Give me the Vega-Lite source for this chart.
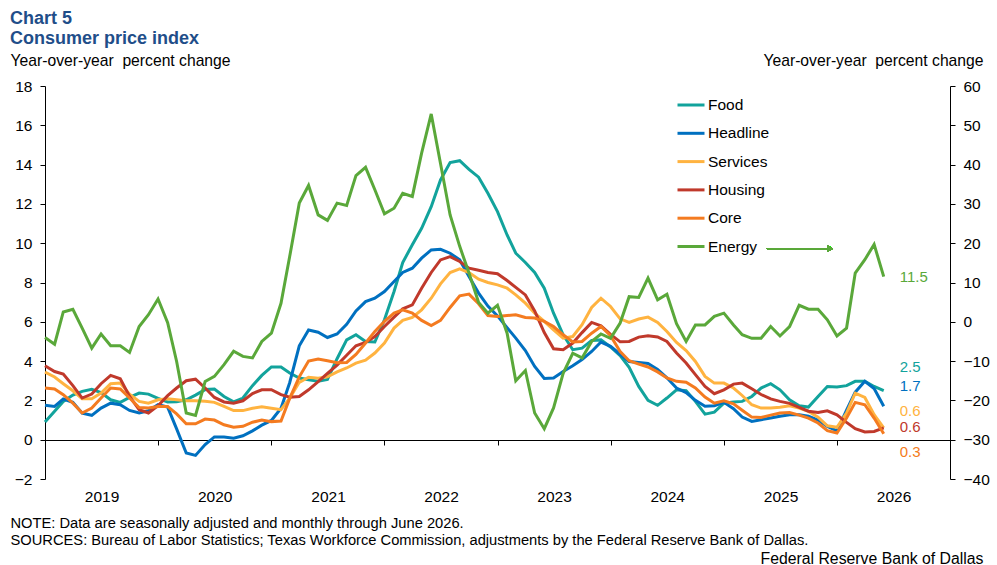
{
"$schema":"https://vega.github.io/schema/vega-lite/v6.json",
"width":905,"height":393,
"autosize":{"type":"none"},
"padding":{"left":45,"top":86,"right":47,"bottom":86},
"config":{"font":"Liberation Sans","view":{"stroke":null},"axis":{"grid":false,"domainColor":"#000","tickColor":"#000","labelColor":"#000","titleColor":"#000","titleFontWeight":"normal"}},
"title":{"text":["Chart 5","Consumer price index"],"anchor":"start","frame":"group","dx":-35,"fontSize":18,"fontWeight":"bold","color":"#1F4E89","lineHeight":20,"offset":4},
"data":{"format":{"parse":{"m":"date"}},"values":[
{"m":"2019-01","s":"Food","v":0.90},{"m":"2019-02","s":"Food","v":1.45},{"m":"2019-03","s":"Food","v":1.95},{"m":"2019-04","s":"Food","v":2.27},{"m":"2019-05","s":"Food","v":2.46},{"m":"2019-06","s":"Food","v":2.56},{"m":"2019-07","s":"Food","v":2.40},{"m":"2019-08","s":"Food","v":2.03},{"m":"2019-09","s":"Food","v":1.90},{"m":"2019-10","s":"Food","v":2.15},{"m":"2019-11","s":"Food","v":2.37},{"m":"2019-12","s":"Food","v":2.32},
{"m":"2020-01","s":"Food","v":2.10},{"m":"2020-02","s":"Food","v":1.92},{"m":"2020-03","s":"Food","v":1.93},{"m":"2020-04","s":"Food","v":2.03},{"m":"2020-05","s":"Food","v":2.27},{"m":"2020-06","s":"Food","v":2.55},{"m":"2020-07","s":"Food","v":2.58},{"m":"2020-08","s":"Food","v":2.20},{"m":"2020-09","s":"Food","v":1.93},{"m":"2020-10","s":"Food","v":2.12},{"m":"2020-11","s":"Food","v":2.75},{"m":"2020-12","s":"Food","v":3.27},
{"m":"2021-01","s":"Food","v":3.70},{"m":"2021-02","s":"Food","v":3.70},{"m":"2021-03","s":"Food","v":3.39},{"m":"2021-04","s":"Food","v":3.14},{"m":"2021-05","s":"Food","v":3.05},{"m":"2021-06","s":"Food","v":2.98},{"m":"2021-07","s":"Food","v":3.07},{"m":"2021-08","s":"Food","v":4.12},{"m":"2021-09","s":"Food","v":5.08},{"m":"2021-10","s":"Food","v":5.34},{"m":"2021-11","s":"Food","v":5.00},{"m":"2021-12","s":"Food","v":4.97},
{"m":"2022-01","s":"Food","v":6.10},{"m":"2022-02","s":"Food","v":7.54},{"m":"2022-03","s":"Food","v":9.02},{"m":"2022-04","s":"Food","v":9.92},{"m":"2022-05","s":"Food","v":10.76},{"m":"2022-06","s":"Food","v":11.86},{"m":"2022-07","s":"Food","v":13.22},{"m":"2022-08","s":"Food","v":14.10},{"m":"2022-09","s":"Food","v":14.20},{"m":"2022-10","s":"Food","v":13.76},{"m":"2022-11","s":"Food","v":13.36},{"m":"2022-12","s":"Food","v":12.54},
{"m":"2023-01","s":"Food","v":11.61},{"m":"2023-02","s":"Food","v":10.42},{"m":"2023-03","s":"Food","v":9.49},{"m":"2023-04","s":"Food","v":9.02},{"m":"2023-05","s":"Food","v":8.51},{"m":"2023-06","s":"Food","v":7.71},{"m":"2023-07","s":"Food","v":6.44},{"m":"2023-08","s":"Food","v":5.34},{"m":"2023-09","s":"Food","v":4.58},{"m":"2023-10","s":"Food","v":4.66},{"m":"2023-11","s":"Food","v":5.05},{"m":"2023-12","s":"Food","v":5.08},
{"m":"2024-01","s":"Food","v":4.72},{"m":"2024-02","s":"Food","v":4.28},{"m":"2024-03","s":"Food","v":3.68},{"m":"2024-04","s":"Food","v":2.71},{"m":"2024-05","s":"Food","v":2.00},{"m":"2024-06","s":"Food","v":1.75},{"m":"2024-07","s":"Food","v":2.12},{"m":"2024-08","s":"Food","v":2.54},{"m":"2024-09","s":"Food","v":2.49},{"m":"2024-10","s":"Food","v":1.95},{"m":"2024-11","s":"Food","v":1.30},{"m":"2024-12","s":"Food","v":1.40},
{"m":"2025-01","s":"Food","v":1.86},{"m":"2025-02","s":"Food","v":1.92},{"m":"2025-03","s":"Food","v":1.95},{"m":"2025-04","s":"Food","v":2.20},{"m":"2025-05","s":"Food","v":2.63},{"m":"2025-06","s":"Food","v":2.85},{"m":"2025-07","s":"Food","v":2.54},{"m":"2025-08","s":"Food","v":2.03},{"m":"2025-09","s":"Food","v":1.73},{"m":"2025-10","s":"Food","v":1.66},{"m":"2025-11","s":"Food","v":2.20},{"m":"2025-12","s":"Food","v":2.71},
{"m":"2026-01","s":"Food","v":2.68},{"m":"2026-02","s":"Food","v":2.75},{"m":"2026-03","s":"Food","v":2.97},{"m":"2026-04","s":"Food","v":2.97},{"m":"2026-05","s":"Food","v":2.71},{"m":"2026-06","s":"Food","v":2.50},
{"m":"2019-01","s":"Headline","v":1.75},{"m":"2019-02","s":"Headline","v":1.69},{"m":"2019-03","s":"Headline","v":2.07},{"m":"2019-04","s":"Headline","v":1.90},{"m":"2019-05","s":"Headline","v":1.35},{"m":"2019-06","s":"Headline","v":1.24},{"m":"2019-07","s":"Headline","v":1.61},{"m":"2019-08","s":"Headline","v":1.86},{"m":"2019-09","s":"Headline","v":1.78},{"m":"2019-10","s":"Headline","v":1.49},{"m":"2019-11","s":"Headline","v":1.36},{"m":"2019-12","s":"Headline","v":1.47},
{"m":"2020-01","s":"Headline","v":1.78},{"m":"2020-02","s":"Headline","v":1.66},{"m":"2020-03","s":"Headline","v":0.55},{"m":"2020-04","s":"Headline","v":-0.68},{"m":"2020-05","s":"Headline","v":-0.80},{"m":"2020-06","s":"Headline","v":-0.25},{"m":"2020-07","s":"Headline","v":0.14},{"m":"2020-08","s":"Headline","v":0.14},{"m":"2020-09","s":"Headline","v":0.08},{"m":"2020-10","s":"Headline","v":0.20},{"m":"2020-11","s":"Headline","v":0.45},{"m":"2020-12","s":"Headline","v":0.74},
{"m":"2021-01","s":"Headline","v":0.98},{"m":"2021-02","s":"Headline","v":1.60},{"m":"2021-03","s":"Headline","v":2.90},{"m":"2021-04","s":"Headline","v":4.78},{"m":"2021-05","s":"Headline","v":5.58},{"m":"2021-06","s":"Headline","v":5.47},{"m":"2021-07","s":"Headline","v":5.20},{"m":"2021-08","s":"Headline","v":5.38},{"m":"2021-09","s":"Headline","v":5.87},{"m":"2021-10","s":"Headline","v":6.55},{"m":"2021-11","s":"Headline","v":7.03},{"m":"2021-12","s":"Headline","v":7.20},
{"m":"2022-01","s":"Headline","v":7.54},{"m":"2022-02","s":"Headline","v":8.05},{"m":"2022-03","s":"Headline","v":8.51},{"m":"2022-04","s":"Headline","v":8.73},{"m":"2022-05","s":"Headline","v":9.24},{"m":"2022-06","s":"Headline","v":9.66},{"m":"2022-07","s":"Headline","v":9.69},{"m":"2022-08","s":"Headline","v":9.49},{"m":"2022-09","s":"Headline","v":9.15},{"m":"2022-10","s":"Headline","v":8.31},{"m":"2022-11","s":"Headline","v":7.46},{"m":"2022-12","s":"Headline","v":6.80},
{"m":"2023-01","s":"Headline","v":6.30},{"m":"2023-02","s":"Headline","v":5.70},{"m":"2023-03","s":"Headline","v":5.17},{"m":"2023-04","s":"Headline","v":4.54},{"m":"2023-05","s":"Headline","v":3.73},{"m":"2023-06","s":"Headline","v":3.12},{"m":"2023-07","s":"Headline","v":3.14},{"m":"2023-08","s":"Headline","v":3.47},{"m":"2023-09","s":"Headline","v":3.76},{"m":"2023-10","s":"Headline","v":4.08},{"m":"2023-11","s":"Headline","v":4.49},{"m":"2023-12","s":"Headline","v":4.97},
{"m":"2024-01","s":"Headline","v":4.75},{"m":"2024-02","s":"Headline","v":4.35},{"m":"2024-03","s":"Headline","v":3.98},{"m":"2024-04","s":"Headline","v":3.93},{"m":"2024-05","s":"Headline","v":3.88},{"m":"2024-06","s":"Headline","v":3.58},{"m":"2024-07","s":"Headline","v":3.15},{"m":"2024-08","s":"Headline","v":2.63},{"m":"2024-09","s":"Headline","v":2.40},{"m":"2024-10","s":"Headline","v":2.00},{"m":"2024-11","s":"Headline","v":1.70},{"m":"2024-12","s":"Headline","v":1.73},
{"m":"2025-01","s":"Headline","v":1.90},{"m":"2025-02","s":"Headline","v":1.58},{"m":"2025-03","s":"Headline","v":1.15},{"m":"2025-04","s":"Headline","v":0.93},{"m":"2025-05","s":"Headline","v":1.02},{"m":"2025-06","s":"Headline","v":1.10},{"m":"2025-07","s":"Headline","v":1.19},{"m":"2025-08","s":"Headline","v":1.27},{"m":"2025-09","s":"Headline","v":1.27},{"m":"2025-10","s":"Headline","v":1.19},{"m":"2025-11","s":"Headline","v":1.00},{"m":"2025-12","s":"Headline","v":0.68},
{"m":"2026-01","s":"Headline","v":0.45},{"m":"2026-02","s":"Headline","v":1.50},{"m":"2026-03","s":"Headline","v":2.42},{"m":"2026-04","s":"Headline","v":2.97},{"m":"2026-05","s":"Headline","v":2.60},{"m":"2026-06","s":"Headline","v":1.70},
{"m":"2019-01","s":"Services","v":3.44},{"m":"2019-02","s":"Services","v":3.19},{"m":"2019-03","s":"Services","v":2.85},{"m":"2019-04","s":"Services","v":2.49},{"m":"2019-05","s":"Services","v":2.08},{"m":"2019-06","s":"Services","v":2.08},{"m":"2019-07","s":"Services","v":2.37},{"m":"2019-08","s":"Services","v":2.85},{"m":"2019-09","s":"Services","v":2.88},{"m":"2019-10","s":"Services","v":2.32},{"m":"2019-11","s":"Services","v":1.95},{"m":"2019-12","s":"Services","v":1.86},
{"m":"2020-01","s":"Services","v":2.03},{"m":"2020-02","s":"Services","v":2.08},{"m":"2020-03","s":"Services","v":2.03},{"m":"2020-04","s":"Services","v":1.98},{"m":"2020-05","s":"Services","v":1.98},{"m":"2020-06","s":"Services","v":1.96},{"m":"2020-07","s":"Services","v":1.90},{"m":"2020-08","s":"Services","v":1.69},{"m":"2020-09","s":"Services","v":1.48},{"m":"2020-10","s":"Services","v":1.48},{"m":"2020-11","s":"Services","v":1.60},{"m":"2020-12","s":"Services","v":1.68},
{"m":"2021-01","s":"Services","v":1.60},{"m":"2021-02","s":"Services","v":1.53},{"m":"2021-03","s":"Services","v":2.12},{"m":"2021-04","s":"Services","v":2.92},{"m":"2021-05","s":"Services","v":3.18},{"m":"2021-06","s":"Services","v":3.13},{"m":"2021-07","s":"Services","v":3.20},{"m":"2021-08","s":"Services","v":3.45},{"m":"2021-09","s":"Services","v":3.65},{"m":"2021-10","s":"Services","v":3.90},{"m":"2021-11","s":"Services","v":4.05},{"m":"2021-12","s":"Services","v":4.41},
{"m":"2022-01","s":"Services","v":4.92},{"m":"2022-02","s":"Services","v":5.68},{"m":"2022-03","s":"Services","v":6.07},{"m":"2022-04","s":"Services","v":6.22},{"m":"2022-05","s":"Services","v":6.61},{"m":"2022-06","s":"Services","v":7.20},{"m":"2022-07","s":"Services","v":7.93},{"m":"2022-08","s":"Services","v":8.51},{"m":"2022-09","s":"Services","v":8.69},{"m":"2022-10","s":"Services","v":8.51},{"m":"2022-11","s":"Services","v":8.17},{"m":"2022-12","s":"Services","v":8.00},
{"m":"2023-01","s":"Services","v":7.88},{"m":"2023-02","s":"Services","v":7.71},{"m":"2023-03","s":"Services","v":7.37},{"m":"2023-04","s":"Services","v":6.95},{"m":"2023-05","s":"Services","v":6.44},{"m":"2023-06","s":"Services","v":6.02},{"m":"2023-07","s":"Services","v":5.59},{"m":"2023-08","s":"Services","v":5.17},{"m":"2023-09","s":"Services","v":5.25},{"m":"2023-10","s":"Services","v":5.85},{"m":"2023-11","s":"Services","v":6.73},{"m":"2023-12","s":"Services","v":7.20},
{"m":"2024-01","s":"Services","v":6.78},{"m":"2024-02","s":"Services","v":6.15},{"m":"2024-03","s":"Services","v":5.97},{"m":"2024-04","s":"Services","v":6.14},{"m":"2024-05","s":"Services","v":6.24},{"m":"2024-06","s":"Services","v":5.97},{"m":"2024-07","s":"Services","v":5.51},{"m":"2024-08","s":"Services","v":4.95},{"m":"2024-09","s":"Services","v":4.54},{"m":"2024-10","s":"Services","v":3.98},{"m":"2024-11","s":"Services","v":3.22},{"m":"2024-12","s":"Services","v":2.88},
{"m":"2025-01","s":"Services","v":2.88},{"m":"2025-02","s":"Services","v":2.63},{"m":"2025-03","s":"Services","v":2.25},{"m":"2025-04","s":"Services","v":1.78},{"m":"2025-05","s":"Services","v":1.61},{"m":"2025-06","s":"Services","v":1.61},{"m":"2025-07","s":"Services","v":1.65},{"m":"2025-08","s":"Services","v":1.73},{"m":"2025-09","s":"Services","v":1.61},{"m":"2025-10","s":"Services","v":1.44},{"m":"2025-11","s":"Services","v":1.15},{"m":"2025-12","s":"Services","v":0.71},
{"m":"2026-01","s":"Services","v":0.63},{"m":"2026-02","s":"Services","v":1.36},{"m":"2026-03","s":"Services","v":2.37},{"m":"2026-04","s":"Services","v":2.15},{"m":"2026-05","s":"Services","v":1.27},{"m":"2026-06","s":"Services","v":0.60},
{"m":"2019-01","s":"Housing","v":3.76},{"m":"2019-02","s":"Housing","v":3.47},{"m":"2019-03","s":"Housing","v":3.34},{"m":"2019-04","s":"Housing","v":2.75},{"m":"2019-05","s":"Housing","v":2.12},{"m":"2019-06","s":"Housing","v":2.32},{"m":"2019-07","s":"Housing","v":2.85},{"m":"2019-08","s":"Housing","v":3.27},{"m":"2019-09","s":"Housing","v":3.10},{"m":"2019-10","s":"Housing","v":2.20},{"m":"2019-11","s":"Housing","v":1.53},{"m":"2019-12","s":"Housing","v":1.36},
{"m":"2020-01","s":"Housing","v":1.73},{"m":"2020-02","s":"Housing","v":2.24},{"m":"2020-03","s":"Housing","v":2.63},{"m":"2020-04","s":"Housing","v":3.00},{"m":"2020-05","s":"Housing","v":3.08},{"m":"2020-06","s":"Housing","v":2.63},{"m":"2020-07","s":"Housing","v":2.15},{"m":"2020-08","s":"Housing","v":1.92},{"m":"2020-09","s":"Housing","v":1.86},{"m":"2020-10","s":"Housing","v":1.98},{"m":"2020-11","s":"Housing","v":2.35},{"m":"2020-12","s":"Housing","v":2.54},
{"m":"2021-01","s":"Housing","v":2.54},{"m":"2021-02","s":"Housing","v":2.29},{"m":"2021-03","s":"Housing","v":2.16},{"m":"2021-04","s":"Housing","v":2.20},{"m":"2021-05","s":"Housing","v":2.54},{"m":"2021-06","s":"Housing","v":2.95},{"m":"2021-07","s":"Housing","v":3.38},{"m":"2021-08","s":"Housing","v":3.80},{"m":"2021-09","s":"Housing","v":4.30},{"m":"2021-10","s":"Housing","v":4.78},{"m":"2021-11","s":"Housing","v":4.95},{"m":"2021-12","s":"Housing","v":5.25},
{"m":"2022-01","s":"Housing","v":5.76},{"m":"2022-02","s":"Housing","v":6.24},{"m":"2022-03","s":"Housing","v":6.66},{"m":"2022-04","s":"Housing","v":6.86},{"m":"2022-05","s":"Housing","v":7.71},{"m":"2022-06","s":"Housing","v":8.51},{"m":"2022-07","s":"Housing","v":9.15},{"m":"2022-08","s":"Housing","v":9.32},{"m":"2022-09","s":"Housing","v":9.07},{"m":"2022-10","s":"Housing","v":8.73},{"m":"2022-11","s":"Housing","v":8.62},{"m":"2022-12","s":"Housing","v":8.51},
{"m":"2023-01","s":"Housing","v":8.45},{"m":"2023-02","s":"Housing","v":8.10},{"m":"2023-03","s":"Housing","v":7.75},{"m":"2023-04","s":"Housing","v":7.37},{"m":"2023-05","s":"Housing","v":6.55},{"m":"2023-06","s":"Housing","v":5.45},{"m":"2023-07","s":"Housing","v":4.63},{"m":"2023-08","s":"Housing","v":4.58},{"m":"2023-09","s":"Housing","v":4.92},{"m":"2023-10","s":"Housing","v":5.45},{"m":"2023-11","s":"Housing","v":5.97},{"m":"2023-12","s":"Housing","v":5.80},
{"m":"2024-01","s":"Housing","v":5.36},{"m":"2024-02","s":"Housing","v":4.98},{"m":"2024-03","s":"Housing","v":5.00},{"m":"2024-04","s":"Housing","v":5.22},{"m":"2024-05","s":"Housing","v":5.29},{"m":"2024-06","s":"Housing","v":5.23},{"m":"2024-07","s":"Housing","v":5.00},{"m":"2024-08","s":"Housing","v":4.41},{"m":"2024-09","s":"Housing","v":3.90},{"m":"2024-10","s":"Housing","v":3.31},{"m":"2024-11","s":"Housing","v":2.71},{"m":"2024-12","s":"Housing","v":2.34},
{"m":"2025-01","s":"Housing","v":2.54},{"m":"2025-02","s":"Housing","v":2.83},{"m":"2025-03","s":"Housing","v":2.88},{"m":"2025-04","s":"Housing","v":2.59},{"m":"2025-05","s":"Housing","v":2.30},{"m":"2025-06","s":"Housing","v":2.08},{"m":"2025-07","s":"Housing","v":1.95},{"m":"2025-08","s":"Housing","v":1.85},{"m":"2025-09","s":"Housing","v":1.65},{"m":"2025-10","s":"Housing","v":1.45},{"m":"2025-11","s":"Housing","v":1.39},{"m":"2025-12","s":"Housing","v":1.47},
{"m":"2026-01","s":"Housing","v":1.27},{"m":"2026-02","s":"Housing","v":0.88},{"m":"2026-03","s":"Housing","v":0.56},{"m":"2026-04","s":"Housing","v":0.39},{"m":"2026-05","s":"Housing","v":0.42},{"m":"2026-06","s":"Housing","v":0.60},
{"m":"2019-01","s":"Core","v":2.63},{"m":"2019-02","s":"Core","v":2.58},{"m":"2019-03","s":"Core","v":2.29},{"m":"2019-04","s":"Core","v":1.86},{"m":"2019-05","s":"Core","v":1.36},{"m":"2019-06","s":"Core","v":1.61},{"m":"2019-07","s":"Core","v":2.12},{"m":"2019-08","s":"Core","v":2.63},{"m":"2019-09","s":"Core","v":2.58},{"m":"2019-10","s":"Core","v":2.12},{"m":"2019-11","s":"Core","v":1.64},{"m":"2019-12","s":"Core","v":1.61},
{"m":"2020-01","s":"Core","v":1.69},{"m":"2020-02","s":"Core","v":1.69},{"m":"2020-03","s":"Core","v":1.31},{"m":"2020-04","s":"Core","v":0.81},{"m":"2020-05","s":"Core","v":0.81},{"m":"2020-06","s":"Core","v":1.05},{"m":"2020-07","s":"Core","v":1.00},{"m":"2020-08","s":"Core","v":0.76},{"m":"2020-09","s":"Core","v":0.64},{"m":"2020-10","s":"Core","v":0.68},{"m":"2020-11","s":"Core","v":0.89},{"m":"2020-12","s":"Core","v":1.00},
{"m":"2021-01","s":"Core","v":0.92},{"m":"2021-02","s":"Core","v":0.95},{"m":"2021-03","s":"Core","v":2.10},{"m":"2021-04","s":"Core","v":3.20},{"m":"2021-05","s":"Core","v":4.00},{"m":"2021-06","s":"Core","v":4.11},{"m":"2021-07","s":"Core","v":4.02},{"m":"2021-08","s":"Core","v":3.92},{"m":"2021-09","s":"Core","v":3.93},{"m":"2021-10","s":"Core","v":4.34},{"m":"2021-11","s":"Core","v":4.92},{"m":"2021-12","s":"Core","v":5.51},
{"m":"2022-01","s":"Core","v":6.02},{"m":"2022-02","s":"Core","v":6.44},{"m":"2022-03","s":"Core","v":6.61},{"m":"2022-04","s":"Core","v":6.44},{"m":"2022-05","s":"Core","v":6.07},{"m":"2022-06","s":"Core","v":5.81},{"m":"2022-07","s":"Core","v":6.07},{"m":"2022-08","s":"Core","v":6.73},{"m":"2022-09","s":"Core","v":7.32},{"m":"2022-10","s":"Core","v":7.41},{"m":"2022-11","s":"Core","v":6.92},{"m":"2022-12","s":"Core","v":6.32},
{"m":"2023-01","s":"Core","v":6.27},{"m":"2023-02","s":"Core","v":6.32},{"m":"2023-03","s":"Core","v":6.36},{"m":"2023-04","s":"Core","v":6.22},{"m":"2023-05","s":"Core","v":6.19},{"m":"2023-06","s":"Core","v":6.02},{"m":"2023-07","s":"Core","v":5.76},{"m":"2023-08","s":"Core","v":5.34},{"m":"2023-09","s":"Core","v":4.97},{"m":"2023-10","s":"Core","v":5.00},{"m":"2023-11","s":"Core","v":5.42},{"m":"2023-12","s":"Core","v":5.76},
{"m":"2024-01","s":"Core","v":5.29},{"m":"2024-02","s":"Core","v":4.49},{"m":"2024-03","s":"Core","v":4.02},{"m":"2024-04","s":"Core","v":3.85},{"m":"2024-05","s":"Core","v":3.70},{"m":"2024-06","s":"Core","v":3.45},{"m":"2024-07","s":"Core","v":3.14},{"m":"2024-08","s":"Core","v":2.97},{"m":"2024-09","s":"Core","v":2.92},{"m":"2024-10","s":"Core","v":2.63},{"m":"2024-11","s":"Core","v":2.17},{"m":"2024-12","s":"Core","v":1.86},
{"m":"2025-01","s":"Core","v":1.98},{"m":"2025-02","s":"Core","v":1.83},{"m":"2025-03","s":"Core","v":1.50},{"m":"2025-04","s":"Core","v":1.15},{"m":"2025-05","s":"Core","v":1.13},{"m":"2025-06","s":"Core","v":1.25},{"m":"2025-07","s":"Core","v":1.36},{"m":"2025-08","s":"Core","v":1.38},{"m":"2025-09","s":"Core","v":1.25},{"m":"2025-10","s":"Core","v":1.10},{"m":"2025-11","s":"Core","v":0.85},{"m":"2025-12","s":"Core","v":0.46},
{"m":"2026-01","s":"Core","v":0.34},{"m":"2026-02","s":"Core","v":1.10},{"m":"2026-03","s":"Core","v":1.90},{"m":"2026-04","s":"Core","v":1.78},{"m":"2026-05","s":"Core","v":1.10},{"m":"2026-06","s":"Core","v":0.30},
{"m":"2019-01","s":"Energy","v":-4.0},{"m":"2019-02","s":"Energy","v":-5.7},{"m":"2019-03","s":"Energy","v":2.5},{"m":"2019-04","s":"Energy","v":3.2},{"m":"2019-05","s":"Energy","v":-1.6},{"m":"2019-06","s":"Energy","v":-6.7},{"m":"2019-07","s":"Energy","v":-3.1},{"m":"2019-08","s":"Energy","v":-6.1},{"m":"2019-09","s":"Energy","v":-6.1},{"m":"2019-10","s":"Energy","v":-7.8},{"m":"2019-11","s":"Energy","v":-1.2},{"m":"2019-12","s":"Energy","v":1.8},
{"m":"2020-01","s":"Energy","v":5.8},{"m":"2020-02","s":"Energy","v":-0.2},{"m":"2020-03","s":"Energy","v":-10.1},{"m":"2020-04","s":"Energy","v":-23.2},{"m":"2020-05","s":"Energy","v":-23.8},{"m":"2020-06","s":"Energy","v":-15.2},{"m":"2020-07","s":"Energy","v":-13.9},{"m":"2020-08","s":"Energy","v":-10.9},{"m":"2020-09","s":"Energy","v":-7.5},{"m":"2020-10","s":"Energy","v":-8.8},{"m":"2020-11","s":"Energy","v":-9.2},{"m":"2020-12","s":"Energy","v":-5.0},
{"m":"2021-01","s":"Energy","v":-2.9},{"m":"2021-02","s":"Energy","v":4.7},{"m":"2021-03","s":"Energy","v":16.6},{"m":"2021-04","s":"Energy","v":30.2},{"m":"2021-05","s":"Energy","v":34.7},{"m":"2021-06","s":"Energy","v":27.2},{"m":"2021-07","s":"Energy","v":25.8},{"m":"2021-08","s":"Energy","v":30.2},{"m":"2021-09","s":"Energy","v":29.6},{"m":"2021-10","s":"Energy","v":37.2},{"m":"2021-11","s":"Energy","v":39.3},{"m":"2021-12","s":"Energy","v":33.6},
{"m":"2022-01","s":"Energy","v":27.5},{"m":"2022-02","s":"Energy","v":28.9},{"m":"2022-03","s":"Energy","v":32.7},{"m":"2022-04","s":"Energy","v":31.9},{"m":"2022-05","s":"Energy","v":42.9},{"m":"2022-06","s":"Energy","v":52.9},{"m":"2022-07","s":"Energy","v":40.3},{"m":"2022-08","s":"Energy","v":27.2},{"m":"2022-09","s":"Energy","v":19.2},{"m":"2022-10","s":"Energy","v":12.4},{"m":"2022-11","s":"Energy","v":4.9},{"m":"2022-12","s":"Energy","v":2.2},
{"m":"2023-01","s":"Energy","v":4.2},{"m":"2023-02","s":"Energy","v":-2.9},{"m":"2023-03","s":"Energy","v":-15.0},{"m":"2023-04","s":"Energy","v":-12.4},{"m":"2023-05","s":"Energy","v":-23.2},{"m":"2023-06","s":"Energy","v":-27.2},{"m":"2023-07","s":"Energy","v":-21.9},{"m":"2023-08","s":"Energy","v":-13.1},{"m":"2023-09","s":"Energy","v":-8.0},{"m":"2023-10","s":"Energy","v":-9.2},{"m":"2023-11","s":"Energy","v":-5.0},{"m":"2023-12","s":"Energy","v":-3.1},
{"m":"2024-01","s":"Energy","v":-4.2},{"m":"2024-02","s":"Energy","v":-0.3},{"m":"2024-03","s":"Energy","v":6.4},{"m":"2024-04","s":"Energy","v":6.2},{"m":"2024-05","s":"Energy","v":11.1},{"m":"2024-06","s":"Energy","v":5.6},{"m":"2024-07","s":"Energy","v":7.0},{"m":"2024-08","s":"Energy","v":-0.5},{"m":"2024-09","s":"Energy","v":-5.0},{"m":"2024-10","s":"Energy","v":-0.8},{"m":"2024-11","s":"Energy","v":-0.8},{"m":"2024-12","s":"Energy","v":1.4},
{"m":"2025-01","s":"Energy","v":2.2},{"m":"2025-02","s":"Energy","v":-0.8},{"m":"2025-03","s":"Energy","v":-3.3},{"m":"2025-04","s":"Energy","v":-4.2},{"m":"2025-05","s":"Energy","v":-4.2},{"m":"2025-06","s":"Energy","v":-1.2},{"m":"2025-07","s":"Energy","v":-3.6},{"m":"2025-08","s":"Energy","v":-1.2},{"m":"2025-09","s":"Energy","v":4.2},{"m":"2025-10","s":"Energy","v":3.2},{"m":"2025-11","s":"Energy","v":3.2},{"m":"2025-12","s":"Energy","v":0.5},
{"m":"2026-01","s":"Energy","v":-3.6},{"m":"2026-02","s":"Energy","v":-1.6},{"m":"2026-03","s":"Energy","v":12.4},{"m":"2026-04","s":"Energy","v":15.8},{"m":"2026-05","s":"Energy","v":19.7},{"m":"2026-06","s":"Energy","v":11.5}
]},
"layer":[
{
"encoding":{
"x":{"field":"m","type":"temporal","scale":{"type":"utc","domain":[1546300800000,1798761600000]},"axis":{"orient":"bottom","offset":-39,"values":[1546300800000,1577836800000,1609459200000,1640995200000,1672531200000,1704067200000,1735689600000,1767225600000],"format":"%Y","labelOffset":56.6,"labelPadding":44,"labelFontSize":15.5,"labelFlush":false,"labelOverlap":false,"labelBound":false,"tickSize":5,"title":["NOTE: Data are seasonally adjusted and monthly through June 2026.","SOURCES: Bureau of Labor Statistics; Texas Workforce Commission, adjustments by the Federal Reserve Bank of Dallas."],"titleAlign":"left","titleAnchor":"start","titleX":-35,"titleY":87,"titleBaseline":"alphabetic","titleFontSize":14.7,"titleLineHeight":17}},
"y":{"field":"v","type":"quantitative","scale":{"domain":[-2,18],"nice":false},"axis":{"orient":"left","values":[-2,0,2,4,6,8,10,12,14,16,18],"tickSize":5,"labelPadding":8,"labelFontSize":15.5,"title":"Year-over-year\u00a0 percent change","titleAngle":0,"titleAlign":"left","titleBaseline":"alphabetic","titleX":-35,"titleY":-21,"titleFontSize":15.7}}
},
"layer":[
{"transform":[{"filter":"datum.s !== 'Energy'"}],"mark":{"type":"line","strokeWidth":3},
 "encoding":{"color":{"field":"s","type":"nominal","scale":{"domain":["Food","Headline","Services","Housing","Core","Energy"],"range":["#12A39C","#0070C0","#FFB340","#C0392B","#F47B20","#5AA83A"]},
 "legend":{"orient":"none","legendX":631,"legendY":4,"title":null,"symbolType":"stroke","symbolSize":729,"symbolStrokeWidth":3,"labelFontSize":15.5,"labelColor":"#000","rowPadding":4.3,"labelOffset":2}}}},
{"transform":[{"filter":"datum.s === 'Food' && utcyear(datum.m) === 2026 && utcmonth(datum.m) === 5"}],"mark":{"type":"text","align":"left","baseline":"middle","dx":16,"dy":-24,"fontSize":15},"encoding":{"text":{"field":"v","type":"quantitative","format":".1f"},"color":{"field":"s","type":"nominal"}}},
{"transform":[{"filter":"datum.s === 'Headline' && utcyear(datum.m) === 2026 && utcmonth(datum.m) === 5"}],"mark":{"type":"text","align":"left","baseline":"middle","dx":16,"dy":-20,"fontSize":15},"encoding":{"text":{"field":"v","type":"quantitative","format":".1f"},"color":{"field":"s","type":"nominal"}}},
{"transform":[{"filter":"datum.s === 'Services' && utcyear(datum.m) === 2026 && utcmonth(datum.m) === 5"}],"mark":{"type":"text","align":"left","baseline":"middle","dx":16,"dy":-17,"fontSize":15},"encoding":{"text":{"field":"v","type":"quantitative","format":".1f"},"color":{"field":"s","type":"nominal"}}},
{"transform":[{"filter":"datum.s === 'Housing' && utcyear(datum.m) === 2026 && utcmonth(datum.m) === 5"}],"mark":{"type":"text","align":"left","baseline":"middle","dx":16,"dy":-1,"fontSize":15},"encoding":{"text":{"field":"v","type":"quantitative","format":".1f"},"color":{"field":"s","type":"nominal"}}},
{"transform":[{"filter":"datum.s === 'Core' && utcyear(datum.m) === 2026 && utcmonth(datum.m) === 5"}],"mark":{"type":"text","align":"left","baseline":"middle","dx":16,"dy":18,"fontSize":15},"encoding":{"text":{"field":"v","type":"quantitative","format":".1f"},"color":{"field":"s","type":"nominal"}}}
]
},
{
"encoding":{
"x":{"field":"m","type":"temporal","scale":{"type":"utc","domain":[1546300800000,1798761600000]},"axis":{"orient":"top","domain":false,"ticks":false,"labels":false,"title":"Federal Reserve Bank of Dallas","titleAlign":"right","titleAnchor":"end","titleX":938,"titleY":477,"titleBaseline":"alphabetic","titleFontSize":15.8}},
"y":{"field":"v","type":"quantitative","scale":{"domain":[-40,60],"nice":false},"axis":{"orient":"right","values":[-40,-30,-20,-10,0,10,20,30,40,50,60],"tickSize":5,"labelPadding":8,"labelFontSize":15.5,"title":"Year-over-year\u00a0 percent change","titleAngle":0,"titleAlign":"right","titleBaseline":"alphabetic","titleX":33,"titleY":-21,"titleFontSize":15.7}}
},
"layer":[
{"transform":[{"filter":"datum.s === 'Energy'"}],"mark":{"type":"line","strokeWidth":3},"encoding":{"color":{"field":"s","type":"nominal"}}},
{"transform":[{"filter":"datum.s === 'Energy' && utcyear(datum.m) === 2026 && utcmonth(datum.m) === 5"}],"mark":{"type":"text","align":"left","baseline":"middle","dx":16,"dy":0,"fontSize":15},"encoding":{"text":{"field":"v","type":"quantitative","format":".1f"},"color":{"field":"s","type":"nominal"}}},
{"mark":{"type":"rule","color":"#5AA83A","strokeWidth":1.2},"encoding":{"x":{"datum":{"year":2025,"month":5,"date":20,"utc":true},"type":"temporal"},"x2":{"datum":{"year":2025,"month":12,"date":8,"utc":true}},"y":{"datum":18.6,"type":"quantitative"}}},
{"mark":{"type":"point","shape":"triangle-right","filled":true,"color":"#5AA83A","size":45,"opacity":1},"encoding":{"x":{"datum":{"year":2025,"month":12,"date":10,"utc":true},"type":"temporal"},"y":{"datum":18.6,"type":"quantitative"}}}
]
}
],
"resolve":{"scale":{"y":"independent"},"axis":{"x":"independent"}}
}
